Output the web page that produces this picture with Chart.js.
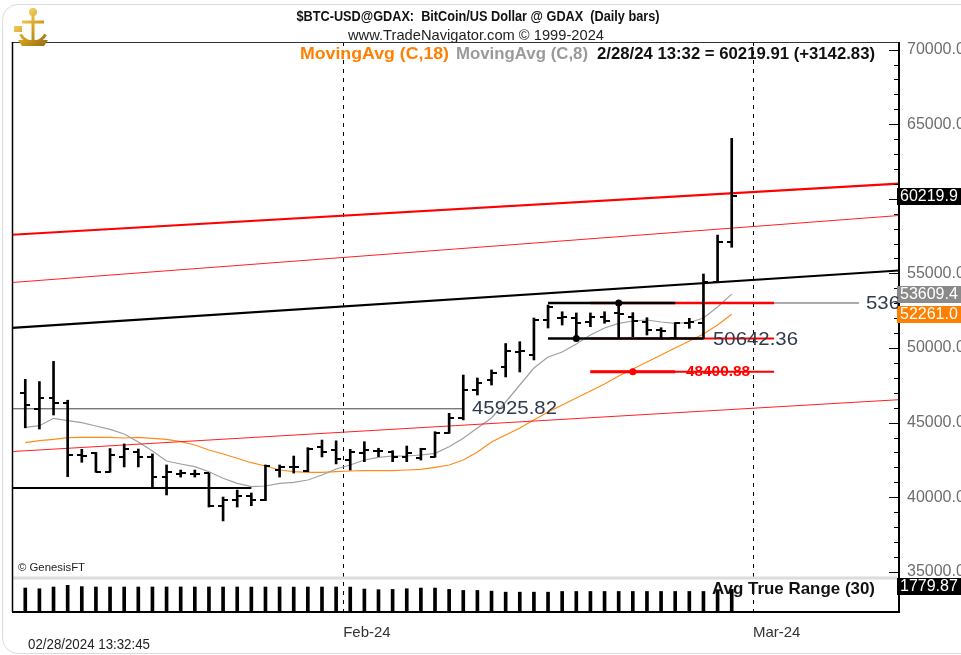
<!DOCTYPE html>
<html>
<head>
<meta charset="utf-8">
<script src="https://cdn.jsdelivr.net/npm/chart.js@4.4.1/dist/chart.umd.min.js"></script>
<style>
  html, body { margin: 0; padding: 0; background: #fff; overflow: hidden; }
  #wrap { position: relative; width: 961px; height: 655px; overflow: hidden; }
  #edge { position: absolute; left: 2px; top: 4px; width: 990px; height: 648px; border: 1px solid #dcdcdc; border-radius: 16px; pointer-events: none; }
  canvas { display: block; }
</style>
</head>
<body>
<div id="wrap"><canvas id="myChart" width="961" height="655"></canvas><div id="edge"></div></div>
<script>
// daily bars, $BTC-USD @ GDAX
const dates = [
  "2024-01-09","2024-01-10","2024-01-11","2024-01-12","2024-01-13","2024-01-14","2024-01-15",
  "2024-01-16","2024-01-17","2024-01-18","2024-01-19","2024-01-20","2024-01-21","2024-01-22",
  "2024-01-23","2024-01-24","2024-01-25","2024-01-26","2024-01-27","2024-01-28","2024-01-29",
  "2024-01-30","2024-01-31","2024-02-01","2024-02-02","2024-02-03","2024-02-04","2024-02-05",
  "2024-02-06","2024-02-07","2024-02-08","2024-02-09","2024-02-10","2024-02-11","2024-02-12",
  "2024-02-13","2024-02-14","2024-02-15","2024-02-16","2024-02-17","2024-02-18","2024-02-19",
  "2024-02-20","2024-02-21","2024-02-22","2024-02-23","2024-02-24","2024-02-25","2024-02-26",
  "2024-02-27","2024-02-28"
];
const opens = [47000,45900,46670,46310,42830,42960,41690,42720,43030,42700,41350,41550,41550,41590,
  39430,39810,40100,39810,41820,42000,41760,43380,43160,42490,42940,43120,43050,42720,42610,42720,
  44320,45310,47190,47860,48730,49730,49530,51880,51990,52010,51760,52100,52330,52100,51760,51210,
  50670,51660,51700,54440,57077];
const highs = [47900,47750,49100,46500,43210,43000,43260,43570,43230,42900,42160,41820,41820,41620,
  40010,40480,40280,42160,42160,42760,43320,43830,43780,43210,43720,43280,43120,43430,43280,44390,
  45620,48190,47990,48530,50300,50420,52010,52880,52430,52350,52350,52430,53016,52370,52030,51360,
  51700,51990,54960,57570,64050];
const lows = [44650,44570,45510,41380,42340,41670,41670,42030,42030,40680,40150,41350,41350,39340,
  38410,39340,39430,39770,41350,41620,41710,42700,42230,41820,42380,42720,42380,42380,42490,42680,
  44280,45180,46850,47520,48060,48390,49200,51340,51540,50642.36,51430,51660,50650,50760,50870,50600,
  50650,51320,50650,54440,56750];
const closes = [46150,46670,46310,42800,42760,41720,42830,43230,42700,41350,41690,41600,41560,39430,
  39810,40100,39810,42090,42050,42050,43230,43030,42560,43050,43160,43080,42720,42940,43210,44320,
  45290,47190,47630,48300,49800,49780,51880,52770,52050,51680,52080,51830,52280,51830,51210,51140,
  51660,51760,54440,57077.08,60219.91];
const ma18 = [43653,43787,43881,43988,44015,44015,44015,43968,44015,43948,43881,43720,43499,43164,
  42896,42608,42313,42092,41824,41710,41669,41669,41710,41757,41777,41777,41777,41824,41870,42005,
  42159,42494,43030,43700,44169,44638,45175,45711,46180,46649,47118,47587,48123,48593,49062,49531,
  50000,50469,50938,51541,52261.05];
const ma8 = [44685,44793,45289,45128,44994,44772,44551,44236,43700,43097,42427,42226,42045,41710,
  41267,40932,40704,40751,40932,40999,41153,41488,41891,42159,42494,42675,42762,42762,42829,42943,
  43385,43948,44638,45309,46381,47520,48660,49397,49732,50268,50871,51340,51655,51810,51877,51743,
  51655,51709,52011,52748,53609.43];
const atr30 = [1890,1830,1970,2100,2000,1970,1970,1970,1970,1970,1975,1975,1970,1975,1970,1970,1965,
  1970,1970,1965,1970,1970,1975,1965,1810,1760,1780,1834,1888,1888,1780,1699,1699,1645,1564,1564,
  1564,1564,1618,1618,1618,1618,1618,1618,1618,1618,1618,1618,1618,1699,1779.87];

const priceTicks = [35000,40000,45000,50000,55000,60000,65000,70000];
const monthTicks = ["2024-02-01","2024-03-01"];
const monthLabels = ["Feb-24","Mar-24"];

// drawn studies: channel ends at left/right edge, support/resistance levels
const channelTop = [57590, 61010];
const channelMid = [54390, 58880];
const channelLow = [43060, 46535];
const trendBlack = [51354, 55194];
const levelLeft = 45925.82, levelLeftEnd = "2024-02-09";
const levelLow = 40620, levelLowEnd = "2024-01-25";
const rangeHigh = 53016, rangeLow = 50642.36, level3 = 48400.88;
const rangeStart = "2024-02-15", rangeHighEnd = "2024-02-24", rangeLowEnd = "2024-02-26";
const redStart = "2024-02-18", redEnd = "2024-03-02", grayEnd = "2024-03-08";
const pivotHigh = "2024-02-20", pivotLow = "2024-02-17", pivot3 = "2024-02-21";

const DAY = 86400000;
function dayIndex(d) { return (Date.parse(d) - Date.parse(dates[0])) / DAY; }
function bx(d) { return dayIndex(d) + 0.5; }

const xMin = -0.44, xMax = 62.34;
const SANS = "'Liberation Sans', Arial, sans-serif";

function tickImg(side) {
  const c = document.createElement("canvas");
  c.width = 10; c.height = 2;
  const g = c.getContext("2d");
  g.fillStyle = "#000";
  g.fillRect(side === "left" ? 0 : 5, 0, 5, 2);
  return c;
}

function seg(x1, x2, v1, v2) { return [{ x: x1, y: v1 }, { x: x2, y: v2 === undefined ? v1 : v2 }]; }
function lineDs(data, color, width) {
  return { type: "line", data: data, borderColor: color, borderWidth: width, pointRadius: 0, fill: false, tension: 0 };
}

function txt(ctx, s, x, y, font, color, w, align) {
  ctx.save();
  ctx.font = font;
  ctx.fillStyle = color;
  ctx.textBaseline = "middle";
  ctx.textAlign = align || "left";
  const k = w ? w / ctx.measureText(s).width : 1;
  ctx.translate(x, y);
  ctx.scale(k, 1);
  ctx.fillText(s, 0, 0);
  ctx.restore();
}

const extras = {
  id: "extras",
  beforeDatasetsDraw(chart) {
    const { ctx, chartArea: a, scales } = chart;
    ctx.save();
    ctx.strokeStyle = "#000";
    ctx.lineWidth = 1;
    ctx.setLineDash([4, 5]);
    monthTicks.forEach(function (d) {
      const px = Math.round(scales.x.getPixelForValue(dayIndex(d))) + 0.5;
      ctx.beginPath(); ctx.moveTo(px, a.top); ctx.lineTo(px, a.bottom); ctx.stroke();
    });
    ctx.setLineDash([]);
    // separator of the Avg True Range panel
    const sy = scales.yA.getPixelForValue(2680);
    ctx.strokeStyle = "#dcdcdc";
    ctx.lineWidth = 3;
    ctx.beginPath(); ctx.moveTo(a.left, sy); ctx.lineTo(a.right, sy); ctx.stroke();
    ctx.restore();
  },
  afterDraw(chart) {
    const { ctx, chartArea: a, scales } = chart;
    const y = scales.y, yA = scales.yA;
    ctx.save();
    // frame
    ctx.strokeStyle = "#333"; ctx.lineWidth = 1;
    ctx.beginPath(); ctx.moveTo(a.left, a.top + 0.5); ctx.lineTo(a.right, a.top + 0.5); ctx.stroke();
    ctx.strokeStyle = "#000"; ctx.lineWidth = 1.5;
    ctx.beginPath(); ctx.moveTo(a.left + 0.5, a.top); ctx.lineTo(a.left + 0.5, a.bottom); ctx.stroke();
    ctx.lineWidth = 2;
    ctx.beginPath(); ctx.moveTo(a.right, a.top); ctx.lineTo(a.right, a.bottom + 1); ctx.stroke();
    ctx.beginPath(); ctx.moveTo(a.left, a.bottom); ctx.lineTo(a.right, a.bottom); ctx.stroke();
    // price axis tick marks
    ctx.lineWidth = 1;
    for (let v = 35000; v <= 70000; v += 1000) {
      const py = Math.round(y.getPixelForValue(v)) + 0.5;
      const len = v % 5000 === 0 ? 10 : 5;
      ctx.beginPath(); ctx.moveTo(a.right - len, py); ctx.lineTo(a.right, py); ctx.stroke();
    }
    // value boxes on the right axis
    const boxes = [
      [y.getPixelForValue(closes[closes.length - 1]), "#000", closes[closes.length - 1].toFixed(1).slice(0, 7)],
      [y.getPixelForValue(ma8[ma8.length - 1]), "#8a8a8a", ma8[ma8.length - 1].toFixed(2).slice(0, 7)],
      [y.getPixelForValue(ma18[ma18.length - 1]), "#ff7f00", ma18[ma18.length - 1].toFixed(2).slice(0, 7)],
      [yA.getPixelForValue(2680) + 8, "#000", atr30[atr30.length - 1].toFixed(2)]
    ];
    boxes.forEach(function (b) {
      ctx.fillStyle = b[1];
      ctx.fillRect(a.right - 2, Math.round(b[0]) - 8, 70, 17);
      txt(ctx, b[2], a.right + 1, Math.round(b[0]) + 0.5, "16px " + SANS, "#fff");
    });
    // level annotations
    txt(ctx, levelLeft.toFixed(2), 472, y.getPixelForValue(levelLeft), "19px " + SANS, "#2f3a4e", 85);
    txt(ctx, rangeLow.toFixed(2), 713, y.getPixelForValue(rangeLow) + 1, "19px " + SANS, "#2f3a4e", 85);
    txt(ctx, level3.toFixed(2), 686, y.getPixelForValue(level3), "bold 15px " + SANS, "#ff0000", 64);
    ctx.save();
    ctx.beginPath(); ctx.rect(a.left, a.top, a.right - a.left - 1, a.bottom - a.top); ctx.clip();
    txt(ctx, ma8[ma8.length - 1].toFixed(2), 866, y.getPixelForValue(rangeHigh) + 1, "19px " + SANS, "#2f3a4e", 85);
    ctx.restore();
    // header
    txt(ctx, "$BTC-USD@GDAX:  BitCoin/US Dollar @ GDAX  (Daily bars)", 478, 17, "bold 14px " + SANS, "#111", 363, "center");
    txt(ctx, "www.TradeNavigator.com \u00a9 1999-2024", 476, 36, "15px " + SANS, "#222", 256, "center");
    txt(ctx, "MovingAvg (C,18)", 300, 55, "bold 16px " + SANS, "#ff8000", 149);
    txt(ctx, "MovingAvg (C,8)", 456, 55, "bold 16px " + SANS, "#9a9a9a", 132);
    txt(ctx, "2/28/24 13:32 = 60219.91 (+3142.83)", 597, 55, "bold 16px " + SANS, "#111", 278);
    txt(ctx, "\u00a9 GenesisFT", 18, 568, "11px " + SANS, "#222", 67);
    txt(ctx, "Avg True Range (30)", 712, 589, "bold 17px " + SANS, "#111", 163);
    txt(ctx, "02/28/2024 13:32:45", 28, 645, "14px " + SANS, "#222", 122);
    // logo
    const gr = ctx.createLinearGradient(14, 8, 50, 46);
    gr.addColorStop(0, "#fff2a8"); gr.addColorStop(0.5, "#d9a520"); gr.addColorStop(1, "#8a6a10");
    ctx.fillStyle = gr; ctx.strokeStyle = gr; ctx.lineWidth = 3;
    ctx.beginPath(); ctx.moveTo(33, 8); ctx.lineTo(33, 40); ctx.stroke();
    ctx.beginPath(); ctx.moveTo(22, 22); ctx.lineTo(44, 22); ctx.stroke();
    ctx.beginPath(); ctx.arc(33, 28, 14, 0.15 * Math.PI, 0.85 * Math.PI); ctx.stroke();
    ctx.beginPath(); ctx.moveTo(18, 40); ctx.lineTo(48, 40); ctx.lineTo(44, 46); ctx.lineTo(22, 46); ctx.closePath(); ctx.fill();
    ctx.beginPath(); ctx.arc(33, 12, 4, 0, 2 * Math.PI); ctx.fill();
    ctx.fillRect(14, 26, 8, 6);
    ctx.restore();
  }
};

const xs = dates.map(function (d, i) { return i + 0.5; });

new Chart("myChart", {
  type: "bar",
  data: {
    datasets: [
      {
        type: "line", showLine: false, pointStyle: tickImg("left"), pointRadius: 3,
        data: opens.map(function (v, i) { return { x: xs[i], y: v }; })
      },
      {
        type: "line", showLine: false, pointStyle: tickImg("right"), pointRadius: 3,
        data: closes.map(function (v, i) { return { x: xs[i], y: v }; })
      },
      {
        type: "bar", grouped: false, barThickness: 2, backgroundColor: "#000",
        data: lows.map(function (v, i) { return { x: xs[i], y: [v, highs[i]] }; })
      },
      {
        type: "line", showLine: false, pointRadius: 3.5, pointBackgroundColor: "#000", pointBorderWidth: 0,
        data: [{ x: bx(pivotHigh), y: rangeHigh }, { x: bx(pivotLow), y: rangeLow }]
      },
      {
        type: "line", showLine: false, pointRadius: 3.5, pointBackgroundColor: "#ff0000", pointBorderWidth: 0,
        data: [{ x: bx(pivot3), y: level3 }]
      },
      lineDs(seg(bx(rangeStart), bx(rangeHighEnd), rangeHigh), "#000", 2.5),
      lineDs(seg(bx(rangeStart), bx(rangeLowEnd), rangeLow), "#000", 2.5),
      lineDs(seg(bx(redStart), bx(redEnd), rangeHigh), "#ff0000", 2.5),
      lineDs(seg(bx(redStart), bx(redEnd), rangeLow), "#ff0000", 2),
      lineDs(seg(bx(redStart), bx(rangeHighEnd), level3), "#ff0000", 3),
      lineDs(seg(bx(redStart), bx(redEnd), level3), "#ff0000", 2),
      lineDs(seg(bx(redStart), bx(grayEnd), rangeHigh), "#555", 1),
      lineDs(seg(xMin, bx(levelLeftEnd), levelLeft), "#444", 1),
      lineDs(seg(xMin, bx(levelLowEnd), levelLow), "#000", 2),
      lineDs(seg(xMin, xMax, channelTop[0], channelTop[1]), "#ff0000", 2.2),
      lineDs(seg(xMin, xMax, channelMid[0], channelMid[1]), "#ff2020", 1),
      lineDs(seg(xMin, xMax, channelLow[0], channelLow[1]), "#ff2020", 1),
      lineDs(seg(xMin, xMax, trendBlack[0], trendBlack[1]), "#000", 2.2),
      lineDs(ma8.map(function (v, i) { return { x: xs[i], y: v }; }), "#a0a0a0", 1.2),
      lineDs(ma18.map(function (v, i) { return { x: xs[i], y: v }; }), "#ff8c1a", 1.2),
      {
        type: "bar", grouped: false, barThickness: 3, backgroundColor: "#000", yAxisID: "yA",
        data: atr30.map(function (v, i) { return { x: xs[i], y: v }; })
      }
    ]
  },
  options: {
    responsive: false,
    animation: false,
    events: [],
    layout: { padding: { left: 12, top: 42, right: 0, bottom: 0 } },
    plugins: { legend: { display: false }, tooltip: { enabled: false }, title: { display: false } },
    scales: {
      x: {
        type: "linear", min: xMin, max: xMax, offset: false,
        grid: { display: false, offset: false }, border: { display: false },
        afterBuildTicks: function (s) { s.ticks = monthTicks.map(function (d) { return { value: dayIndex(d) }; }); },
        afterFit: function (s) { s.height = 43; },
        ticks: {
          autoSkip: false, maxRotation: 0, align: "start", padding: 4, color: "#333",
          font: { family: SANS, size: 15 },
          callback: function (v, i) { return monthLabels[i]; }
        }
      },
      y: {
        type: "linear", position: "right", min: 32307, max: 70508,
        grid: { display: false, drawTicks: false }, border: { display: false },
        afterBuildTicks: function (s) { s.ticks = priceTicks.map(function (v) { return { value: v }; }); },
        afterFit: function (s) { s.width = 62; },
        ticks: {
          padding: 8, color: "#6e6e6e", font: { family: SANS, size: 16 },
          callback: function (v) { return Number(v).toFixed(1); }
        }
      },
      yA: { type: "linear", display: false, min: 0, max: 44929 }
    }
  },
  plugins: [extras]
});
</script>
</body>
</html>
